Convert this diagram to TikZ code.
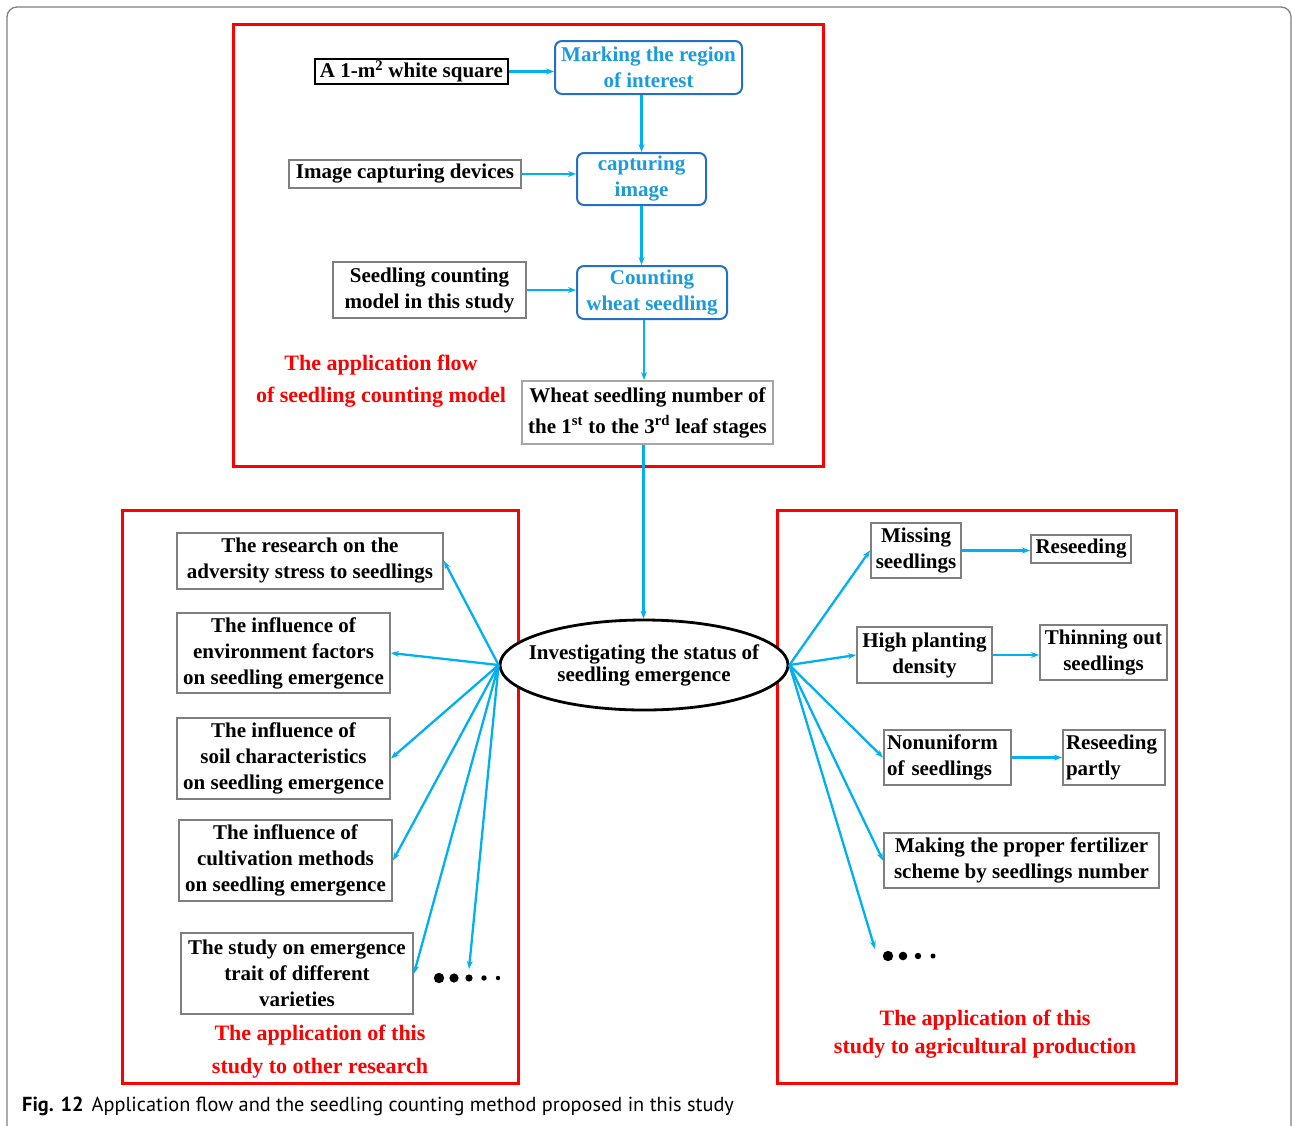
\documentclass[tikz,border=0pt]{standalone}
\usepackage{fontspec}
\setmainfont{Liberation Serif}
\setsansfont{PT Sans}
\usetikzlibrary{shapes.geometric,arrows.meta}
\definecolor{boxgray}{HTML}{7F7F7F}
\definecolor{lightgray2}{HTML}{A6A6A6}
\definecolor{arrblue}{HTML}{00B0F0}
\definecolor{tblue}{HTML}{1A9BDC}
\definecolor{rblue}{HTML}{2470C4}
\definecolor{framegray}{HTML}{808080}
\newcommand\myfont{\fontsize{21}{26}\selectfont\bfseries}
\newcommand\myredfont{\fontsize{22}{32}\selectfont\bfseries}
\begin{document}
\begin{tikzpicture}[x=1pt,y=-1pt,
  box/.style={draw=boxgray, line width=2pt, inner sep=0pt, align=center, font=\myfont, fill=white},
  rbox/.style={draw=rblue, rounded corners=7pt, line width=2pt, inner sep=0pt, align=center, text=tblue, font=\myfont, fill=white},
  arr/.style={draw=arrblue, line width=2.3pt, -{Stealth[length=8pt,width=6pt]}},
  redframe/.style={draw=red, line width=3pt},
  redlbl/.style={text=red, align=center, font=\myredfont, inner sep=0pt},
  dotfill/.style={fill=black, draw=none}
]
\useasboundingbox (0,0) rectangle (1292,1125);
% outer frame
\draw[framegray, line width=1.3pt, rounded corners=10pt] (7,1130) -- (7,7) -- (1291,7) -- (1291,1130);

% red frames
\draw[redframe] (233,24) rectangle (823,466);
\draw[redframe] (122,510) rectangle (518,1083);
\draw[redframe] (777,510) rectangle (1176,1083);

% top flow
\node[box, draw=black, minimum width=193, minimum height=25] (sq) at (411.5,71.5) {A 1-m\textsuperscript{2} white square};
\node[rbox, minimum width=187, minimum height=53] (mark) at (648.5,67.5) {Marking the region\\of interest};
\node[box, minimum width=232, minimum height=28] (dev) at (405,174) {Image capturing devices};
\node[rbox, minimum width=129, minimum height=52] (cap) at (641.5,179) {capturing\\image};
\node[box, minimum width=193, minimum height=56] (model) at (429.5,290) {Seedling counting\\model in this study};
\node[rbox, minimum width=150, minimum height=53] (cnt) at (652,292.5) {Counting\\wheat seedling};
\node[box, draw=lightgray2, minimum width=251, minimum height=63, font=\fontsize{21}{31}\selectfont\bfseries] (wheat) at (647.5,412.5) {Wheat seedling number of\\the 1\textsuperscript{st} to the 3\textsuperscript{rd} leaf stages};
\node[redlbl] (flowlbl) at (381,381) {The application flow\\of seedling counting model};

\draw[arr] (sq.east) -- (sq.east -| mark.west);
\draw[arr] (cap.north |- mark.south) -- (cap.north);
\draw[arr] (dev.east) -- (dev.east -| cap.west);
\draw[arr] (cap.south) -- (cap.south |- cnt.north);
\draw[arr] (model.east) -- (model.east -| cnt.west);
\draw[arr] ([xshift=-8pt]cnt.south) -- ([xshift=-8pt]cnt.south |- wheat.north);

% ellipse
\node[ellipse, draw=black, line width=2.8pt, minimum width=288, minimum height=90, inner sep=0pt, fill=white] (ell) at (644,665) {};
\node[align=center, inner sep=0pt, font=\fontsize{21}{22}\selectfont\bfseries] (elltxt) at (ell.center) {Investigating the status of\\seedling emergence};
\draw[arr] ([xshift=-4pt]wheat.south) -- ([xshift=-4pt]wheat.south |- ell.north);

% left side
\node[box, minimum width=266, minimum height=56] (l1) at (310,561) {The research on the\\adversity stress to seedlings};
\node[box, minimum width=213, minimum height=80] (l2) at (283.5,653) {The influence of\\environment factors\\on seedling emergence};
\node[box, minimum width=213, minimum height=81] (l3) at (283.5,758.5) {The influence of\\soil characteristics\\on seedling emergence};
\node[box, minimum width=213, minimum height=81] (l4) at (285.5,860.5) {The influence of\\cultivation methods\\on seedling emergence};
\node[box, minimum width=232, minimum height=81] (l5) at (297,973.5) {The study on emergence\\trait of different\\varieties};
\coordinate (ldots) at (469,969);
\fill[dotfill] (439,978) circle (5.2) (454,978) circle (4.6) (469,978) circle (3.6) (484,978) circle (2.7) (498,978) circle (2.2);
\node[redlbl, font=\fontsize{22}{33}\selectfont\bfseries] (leftlbl) at (320,1051.5) {The application of this\\study to other research};

\draw[arr] (ell.west) -- (l1.east);
\draw[arr] (ell.west) -- (l2.east);
\draw[arr] (ell.west) -- (l3.east);
\draw[arr] (ell.west) -- (l4.east);
\draw[arr] (ell.west) -- (l5.east);
\draw[arr] (ell.west) -- (ldots);

% right side
\node[box, minimum width=90, minimum height=55] (r1) at (916,550.5) {Missing\\seedlings};
\node[box, minimum width=100, minimum height=28] (r1b) at (1081,549) {Reseeding};
\node[box, minimum width=135, minimum height=56] (r2) at (924.5,655) {High planting\\density};
\node[box, minimum width=127, minimum height=55] (r2b) at (1103.5,652.5) {Thinning out\\seedlings};
\node[box, minimum width=127, minimum height=55, align=left, text width=121, inner xsep=3pt] (r3) at (947.5,757.5) {Nonuniform\\of seedlings};
\node[box, minimum width=102, minimum height=55, align=left, text width=96, inner xsep=3pt] (r3b) at (1114,757.5) {Reseeding\\partly};
\node[box, minimum width=275, minimum height=55] (r4) at (1021.5,860.5) {Making the proper fertilizer\\scheme by seedlings number};
\coordinate (rdots) at (875,949);
\fill[dotfill] (888,956) circle (5.2) (903,956) circle (4.3) (918,956) circle (3.2) (933,956) circle (2.5);
\node[redlbl, font=\fontsize{22}{28}\selectfont\bfseries] (rightlbl) at (985,1034) {The application of this\\study to agricultural production};

\draw[arr] (ell.east) -- (r1.west);
\draw[arr] (ell.east) -- (r2.west);
\draw[arr] (ell.east) -- (r3.west);
\draw[arr] (ell.east) -- (r4.west);
\draw[arr] (ell.east) -- (rdots);
\draw[arr] (r1.east) -- (r1.east -| r1b.west);
\draw[arr] (r2.east) -- (r2.east -| r2b.west);
\draw[arr] (r3.east) -- (r3.east -| r3b.west);

% caption
\node[anchor=west, inner sep=0pt, font=\sffamily\fontsize{20.3}{24}\selectfont] (cap12) at (22,1106) {\textbf{Fig. 12}\hspace{8pt}Application flow and the seedling counting method proposed in this study};
\end{tikzpicture}
\end{document}
